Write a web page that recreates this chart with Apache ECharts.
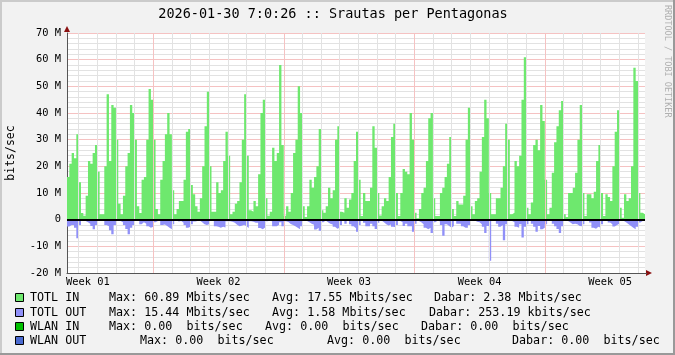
<!DOCTYPE html>
<html>
<head>
<meta charset="utf-8">
<script src="https://cdn.jsdelivr.net/npm/echarts@6.0.0/dist/echarts.min.js"></script>
<style>
  html, body { margin: 0; padding: 0; background: #f2f2f2; }
  #wrap { position: relative; width: 675px; height: 355px; }
  #canvasBg { position: absolute; left: 67px; top: 33px; width: 578px; height: 240px; background: #fff; }
  #chart { position: absolute; left: 0; top: 0; width: 675px; height: 355px; }
</style>
</head>
<body>
<div id="wrap">
  <div id="canvasBg"></div>
  <div id="chart"></div>
</div>
<script>
// 3-hour samples, Mbits/sec. First day is partial (5 samples), last is partial (3).
const totlIn = [
  16, 21, 25, 23, 32,
  14, 2.5, 1.5, 9, 22, 21, 25, 28,
  18, 2, 2, 20, 47, 22, 43, 42,
  30, 6, 2, 9, 20, 25, 43, 40,
  30, 5, 2.5, 15, 16, 30, 49, 45,
  30, 4, 2, 15, 22, 32, 40, 32,
  11, 2, 4, 7, 7, 15, 33, 34,
  13, 9.5, 5, 3, 8, 20, 35, 48,
  20, 3, 3, 14, 10, 11, 22, 33,
  24, 2, 3, 6, 7, 14, 30, 47,
  24, 3.5, 3, 7, 5, 17, 40, 45,
  8, 1.5, 3, 27, 22, 25, 58, 28,
  1.5, 5, 3, 10, 25, 30, 50, 40,
  5, 1, 5, 15, 12, 16, 20, 34,
  3.5, 2.6, 5, 12, 8, 11, 30, 35,
  3, 2.6, 8, 4.5, 7.6, 10, 22, 33,
  15, 1.4, 10, 7, 7, 12, 35, 27,
  10, 1.6, 5, 8, 7, 16, 31, 36,
  10, 1.4, 10, 19, 18, 17, 40, 30,
  2.6, 0.5, 4, 10, 12, 22, 38, 40,
  8, 1.4, 1.4, 10, 12, 16, 21, 31,
  4, 1.4, 7, 5.7, 5.7, 9, 30, 42,
  5, 2, 7, 8, 18, 31, 45, 38,
  10, 2, 2, 8, 8, 12, 20, 36,
  30, 2, 2.6, 22, 20, 24, 45, 60.89,
  4.5, 2, 6.4, 28, 30, 26, 43, 37,
  15, 2, 4.5, 17.6, 29, 35, 41, 44.5,
  2, 1, 10, 10, 12, 17.6, 30, 43,
  10, 1.4, 9.5, 9.5, 8, 10.5, 22, 28,
  10, 1.4, 9.5, 8.5, 7, 20, 33, 41,
  4.5, 0.75, 9.5, 7, 8, 20, 57, 52,
  10, 2.6, 2
];

// outgoing, drawn below zero
const totlOut = [
  2.6, 2, 2, 3, 7,
  2, 0.5, 0.5, 1, 1.5, 2.4, 3.6, 2,
  0.5, 0.3, 0.5, 2, 2.5, 4, 5.5, 2,
  0.3, 0.5, 1, 2, 3.5, 5.5, 3, 2,
  0.5, 0.5, 1.7, 1, 1.5, 2.5, 3, 2.7,
  1, 0.5, 0.3, 2, 1.8, 2.4, 3, 3.6,
  1.7, 0.3, 0.7, 0.5, 1.2, 2, 3, 2.7,
  1.7, 0.7, 0.5, 0.3, 1, 1.7, 2, 1.7,
  0.5, 0.3, 2.5, 2.7, 3, 2.7, 2.9, 0.6,
  0.6, 0.8, 1.2, 1.9, 2.5, 2.3, 1.9, 2.5,
  3.1, 0.6, 0.8, 1.2, 1.2, 3.1, 3.6, 2.9,
  0.6, 0.4, 0.6, 2.5, 2.5, 1.9, 1, 2.5,
  0.6, 0.9, 1.6, 2, 2.5, 3, 3.6, 2.5,
  0.5, 0.5, 1, 1.5, 1.9, 3.7, 3, 4.2,
  1, 0.3, 1, 1.5, 1.8, 2.7, 3.4, 3,
  2, 0.3, 1.5, 0.5, 1.7, 2.5, 3.2, 4.5,
  2, 0.3, 1.2, 2.5, 2.5, 1.5, 2.5, 3.5,
  1.2, 0.3, 1, 1.7, 2.2, 1.8, 2.7, 2.8,
  2, 0.5, 1, 2.4, 1.5, 2.5, 2.5, 4.5,
  1.5, 0.5, 1, 1.7, 3, 3.6, 3, 5,
  1, 0.4, 0.6, 2, 6, 1.7, 2.4, 3,
  2.4, 0.5, 1.5, 1.5, 2.5, 3, 3, 2,
  0.5, 0.3, 0.8, 1, 1.7, 2.7, 5, 2.4,
  15.44, 0.5, 0.5, 1.5, 2.7, 2, 7.7, 1.7,
  0.5, 0.5, 1, 2.7, 3, 1.7, 6.7, 2.7,
  1.7, 0.3, 1.5, 2.7, 4.5, 2.4, 3.6, 3,
  1.7, 0.3, 0.5, 1.5, 2.5, 3.5, 5, 2.5,
  0.5, 0.5, 1.1, 1.7, 1.5, 1.7, 2.4, 2.5,
  1.7, 0.3, 0.3, 1.1, 3, 3.4, 2.7, 3,
  1.7, 0.5, 0.3, 1.1, 1.7, 2.6, 2, 1.5,
  0.3, 0.5, 1.1, 1.7, 2.4, 3, 3.6, 2.7,
  1.1, 0.5, 0.5
];

const weekLabels = ["Week 01", "Week 02", "Week 03", "Week 04", "Week 05"];
const firstMidnight = 5;   // sample index of first day boundary
const perDay = 8;
const firstWeekLine = 37;  // sample index of first weekly (red) grid line
const firstWeekLabel = 9;

const legendRows = [
  { name: "TOTL IN",  color: "#6ee86e", max: "Max: 60.89 Mbits/sec", avg: "Avg: 17.55 Mbits/sec", now: "Dabar: 2.38 Mbits/sec",    x: [109, 272, 434] },
  { name: "TOTL OUT", color: "#9090f8", max: "Max: 15.44 Mbits/sec", avg: "Avg: 1.58 Mbits/sec",  now: "Dabar: 253.19 kbits/sec",  x: [109, 272, 429] },
  { name: "WLAN IN",  color: "#00c000", max: "Max: 0.00  bits/sec",  avg: "Avg: 0.00  bits/sec",  now: "Dabar: 0.00  bits/sec",    x: [109, 265, 421] },
  { name: "WLAN OUT", color: "#4a6ad0", max: "Max: 0.00  bits/sec",  avg: "Avg: 0.00  bits/sec",  now: "Dabar: 0.00  bits/sec",    x: [140, 327, 512] }
];

const mono = '"DejaVu Sans Mono", monospace';
const n = totlIn.length;
// step 'end' holds each value until the next sample, so repeat the last one at x = n
const inData = totlIn.map((v, i) => [i, v]).concat([[n, totlIn[n - 1]]]);
const outData = totlOut.map((v, i) => [i, -v]).concat([[n, -totlOut[n - 1]]]);

const isDay = i => i >= firstMidnight && (i - firstMidnight) % perDay === 0;
const isWeek = i => i >= firstWeekLine && (i - firstWeekLine) % (perDay * 7) === 0;
const isLabel = i => i >= firstWeekLabel && (i - firstWeekLabel) % (perDay * 7) === 0;

const minorColor = "#e2e2e2";
const majorColor = "#f5c2c2";

// vertical grid: daily light gray, weekly pale red
const vGrid = [];
for (let i = 0; i <= n; i++) {
  if (isWeek(i)) vGrid.push({ xAxis: i, lineStyle: { color: majorColor, width: 1, type: "solid" } });
  else if (isDay(i)) vGrid.push({ xAxis: i, lineStyle: { color: minorColor, width: 1, type: "solid" } });
}

const graphics = [
  // 3D border
  { type: "rect", shape: { x: 0, y: 0, width: 675, height: 2 }, style: { fill: "#cbcbcb" } },
  { type: "rect", shape: { x: 0, y: 0, width: 2, height: 355 }, style: { fill: "#cbcbcb" } },
  { type: "rect", shape: { x: 673, y: 0, width: 2, height: 355 }, style: { fill: "#999" } },
  { type: "rect", shape: { x: 0, y: 353, width: 675, height: 2 }, style: { fill: "#999" } },
  { type: "text", x: 333, y: 14, style: { text: "2026-01-30 7:0:26 :: Srautas per Pentagonas", font: "13.5px " + mono, fill: "#000", textAlign: "center", textVerticalAlign: "middle" } },
  { type: "text", x: 667, y: 5, rotation: -Math.PI / 2, style: { text: "RRDTOOL / TOBI OETIKER", font: "8.5px " + mono, fill: "#b0b0b0", textAlign: "left", textVerticalAlign: "middle" } },
  { type: "text", x: 11, y: 153, rotation: Math.PI / 2, style: { text: "bits/sec", font: "11.5px " + mono, fill: "#000", textAlign: "center", textVerticalAlign: "middle" } },
  { type: "polygon", shape: { points: [[64, 32], [70, 32], [67, 26]] }, style: { fill: "#8b1010" } },
  { type: "polygon", shape: { points: [[646, 270], [646, 276], [652, 273]] }, style: { fill: "#8b1010" } },
  { type: "line", shape: { x1: 645, y1: 273.5, x2: 647, y2: 273.5 }, style: { stroke: "#555", lineWidth: 1 } }
];

const rowY = [298, 313, 327, 341];
legendRows.forEach((r, k) => {
  const y = rowY[k];
  graphics.push({ type: "rect", shape: { x: 15.5, y: y - 4.5, width: 8, height: 8 }, style: { fill: r.color, stroke: "#000", lineWidth: 1 } });
  graphics.push({ type: "text", x: 30, y: y, style: { text: r.name, font: "11.7px " + mono, fill: "#000", textVerticalAlign: "middle" } });
  [r.max, r.avg, r.now].forEach((t, j) => {
    graphics.push({ type: "text", x: r.x[j], y: y, style: { text: t, font: "11.7px " + mono, fill: "#000", textVerticalAlign: "middle" } });
  });
});

const chart = echarts.init(document.getElementById("chart"), null, { renderer: "canvas" });
chart.setOption({
  animation: false,
  backgroundColor: "transparent",
  grid: { left: 67, top: 33, width: 578, height: 240, show: false },
  xAxis: {
    type: "value",
    min: 0,
    max: n,
    interval: 1,
    axisLine: { onZero: false, lineStyle: { color: "#555", width: 1 } },
    axisTick: { show: false },
    axisLabel: {
      formatter: v => (isLabel(v) ? weekLabels[(v - firstWeekLabel) / (perDay * 7)] || "" : ""),
      showMinLabel: false, showMaxLabel: false,
      fontFamily: mono, fontSize: 10.4, color: "#000", margin: 4
    },
    splitLine: { show: false }
  },
  yAxis: {
    type: "value",
    min: -20,
    max: 70,
    interval: 10,
    axisLine: { show: true, lineStyle: { color: "#555", width: 1 } },
    axisTick: { show: false },
    axisLabel: {
      formatter: v => (v === 0 ? "0" : v + " M"),
      fontFamily: mono, fontSize: 10.4, color: "#000", margin: 6
    },
    splitLine: { lineStyle: { color: majorColor, width: 1, type: "solid" } },
    minorTick: { show: false, splitNumber: 5 },
    minorSplitLine: { show: true, lineStyle: { color: minorColor, width: 1, type: "solid" } }
  },
  series: [
    {
      name: "grid",
      type: "line",
      data: [],
      z: 1,
      silent: true,
      markLine: {
        silent: true,
        symbol: "none",
        label: { show: false },
        data: vGrid
      }
    },
    {
      name: "TOTL IN",
      type: "line",
      step: "end",
      data: inData,
      symbol: "none",
      silent: true,
      z: 2,
      lineStyle: { width: 0 },
      areaStyle: { color: "#6ee86e", opacity: 1 }
    },
    {
      name: "TOTL OUT",
      type: "line",
      step: "end",
      data: outData,
      symbol: "none",
      silent: true,
      z: 2,
      lineStyle: { width: 0 },
      areaStyle: { color: "#9090f8", opacity: 1 },
      markLine: {
        silent: true,
        symbol: "none",
        label: { show: false },
        lineStyle: { color: "#000", width: 2, type: "solid" },
        data: [{ yAxis: 0 }]
      }
    }
  ],
  graphic: graphics
});
</script>
</body>
</html>
